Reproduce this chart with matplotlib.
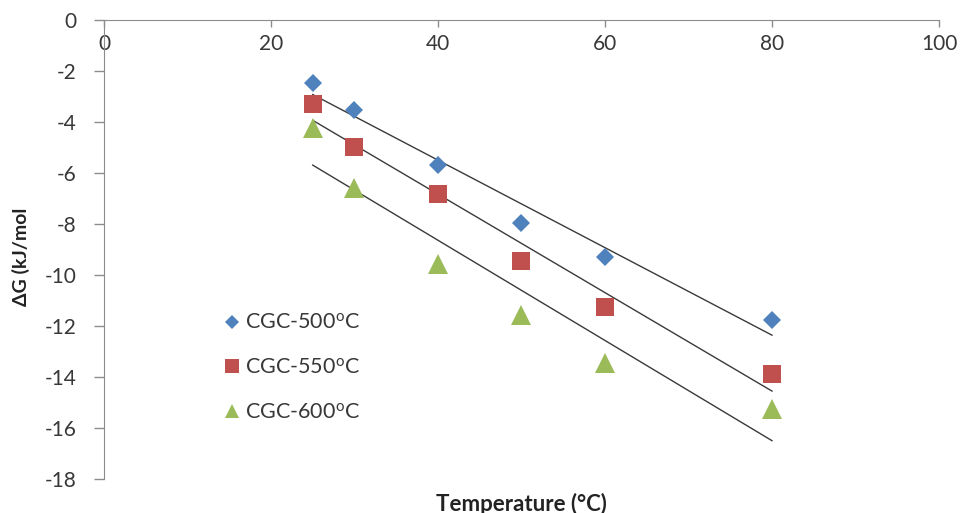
import matplotlib
matplotlib.use("Agg")
import matplotlib.pyplot as plt
import numpy as np

# Adsorption free energy vs temperature for three carbonisation temperatures
temperature = [25, 30, 40, 50, 60, 80]
dg_500 = [-2.47, -3.53, -5.69, -7.96, -9.29, -11.76]
dg_550 = [-3.29, -4.98, -6.82, -9.45, -11.25, -13.88]
dg_600 = [-4.24, -6.59, -9.57, -11.57, -13.45, -15.25]
series_labels = ["CGC-500$^{\\mathrm{o}}$C", "CGC-550$^{\\mathrm{o}}$C", "CGC-600$^{\\mathrm{o}}$C"]
x_ticks = [0, 20, 40, 60, 80, 100]
y_ticks = [0, -2, -4, -6, -8, -10, -12, -14, -16, -18]

plt.rcParams["font.family"] = ["Lato", "DejaVu Sans"]
plt.rcParams["mathtext.fontset"] = "custom"
plt.rcParams["mathtext.rm"] = "Lato"
plt.rcParams["mathtext.it"] = "Lato:italic"

fig = plt.figure(figsize=(9.61, 5.13), dpi=100)
ax = fig.add_axes([0.1082, 0.0663, 0.8689, 0.8947])

styles = [
    (dg_500, "D", 9.5, "#4F81BD"),
    (dg_550, "s", 13.5, "#C0504D"),
    (dg_600, "^", 14, "#9BBB59"),
]

x = np.array(temperature, dtype=float)
for (vals, mk, ms, col), lab in zip(styles, series_labels):
    y = np.array(vals, dtype=float)
    ax.plot(x, y, linestyle="none", marker=mk, markersize=ms, color=col,
            markeredgewidth=0, label=lab, zorder=3)
    # least-squares trend line over the measured range
    k, b = np.polyfit(x, y, 1)
    xt = np.array([x.min(), x.max()])
    ax.plot(xt, k * xt + b, color="#3a3a3a", linewidth=1.0, zorder=2)

ax.set_xlim(0, 100)
ax.set_ylim(-18, 0)
ax.set_xticks(x_ticks)
ax.set_yticks(y_ticks)
ax.set_yticklabels([str(v) for v in y_ticks])

spine_col = "#8c8c8c"
ax.spines["top"].set_visible(False)
ax.spines["right"].set_visible(False)
ax.spines["bottom"].set_position(("data", 0))
ax.spines["bottom"].set_color(spine_col)
ax.spines["left"].set_color(spine_col)
ax.tick_params(axis="x", direction="out", length=5, width=1, color=spine_col,
               labelsize=15, labelcolor="#383838", pad=5)
ax.tick_params(axis="y", direction="out", length=7, width=1, color=spine_col,
               labelsize=15, labelcolor="#383838", pad=13)

ax.set_xlabel("Temperature (°C)", fontsize=16, fontweight="bold", color="#222222")
ax.xaxis.set_label_coords(0.5, -0.03)
ax.set_ylabel("ΔG (kJ/mol", fontsize=14, fontweight="bold", color="#222222")
ax.yaxis.set_label_coords(-0.088, 0.483)

leg = ax.legend(loc="upper left", bbox_to_anchor=(0.135, 0.38), frameon=False,
                fontsize=15.5, markerscale=0.72, handlelength=0.6, handletextpad=0.3,
                labelspacing=1.15, borderaxespad=0)
for t in leg.get_texts():
    t.set_color("#383838")

fig.savefig("out.png", dpi=100)
